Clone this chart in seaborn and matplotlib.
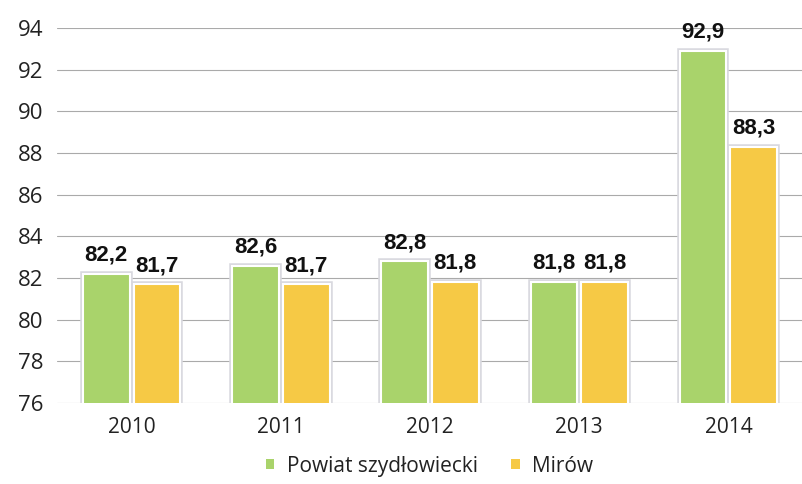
import matplotlib
matplotlib.use("Agg")
import matplotlib.patheffects as pe
import matplotlib.pyplot as plt
import pandas as pd
import seaborn as sns

years = ["2010", "2011", "2012", "2013", "2014"]
series_names = ["Powiat szydłowiecki", "Mirów"]
powiat_values = [82.2, 82.6, 82.8, 81.8, 92.9]
mirow_values = [81.7, 81.7, 81.8, 81.8, 88.3]
y_ticks = [76, 78, 80, 82, 84, 86, 88, 90, 92, 94]

colors = ["#a9d36b", "#f6c945"]

data = pd.DataFrame({
    "year": years * 2,
    "series": [series_names[0]] * len(years) + [series_names[1]] * len(years),
    "value": powiat_values + mirow_values,
})

sns.set_theme(style="white")
plt.rcParams["font.family"] = ["Open Sans", "DejaVu Sans"]

fig = plt.figure(figsize=(8.03, 4.84), dpi=100)
ax = fig.add_axes([0.071, 0.167, 0.929, 0.775])

sns.barplot(
    data=data, x="year", y="value", hue="series", palette=colors,
    saturation=1, width=0.68, gap=0.08, ax=ax, edgecolor="white",
    linewidth=1.5,
)

# white rim plus faint grey shadow around each bar
for patch in ax.patches:
    patch.set_path_effects([pe.Stroke(linewidth=4, foreground="#d9d9df"), pe.Normal()])

ax.set_ylim(76, 94)
ax.set_yticks(y_ticks)
ax.set_yticklabels([str(t) for t in y_ticks], fontsize=16, color="#222222")
ax.tick_params(axis="x", labelsize=15, colors="#222222", pad=10, length=0)
ax.tick_params(axis="y", length=0, pad=10)
ax.set_xlabel("")
ax.set_ylabel("")
ax.yaxis.grid(True, color="#aaaaaa", linewidth=0.8)
ax.set_axisbelow(True)
for side in ["top", "right", "left", "bottom"]:
    ax.spines[side].set_visible(False)

for container in ax.containers:
    labels = [f"{v:.1f}".replace(".", ",") for v in container.datavalues]
    ax.bar_label(container, labels=labels, padding=6, fontsize=16,
                 fontweight="bold", family=["Liberation Sans", "DejaVu Sans"],
                 color="#111111")

handles, lbls = ax.get_legend_handles_labels()
leg = ax.legend(handles, lbls, loc="center", bbox_to_anchor=(0.535, 0.037),
                bbox_transform=fig.transFigure, ncol=2, frameon=False,
                fontsize=15, handlelength=0.4, handleheight=0.4,
                handletextpad=0.6, columnspacing=1.6, labelcolor="#222222")
for handle in leg.legend_handles:
    handle.set_edgecolor("none")
    handle.set_path_effects([])

fig.savefig("out.png", dpi=100)
